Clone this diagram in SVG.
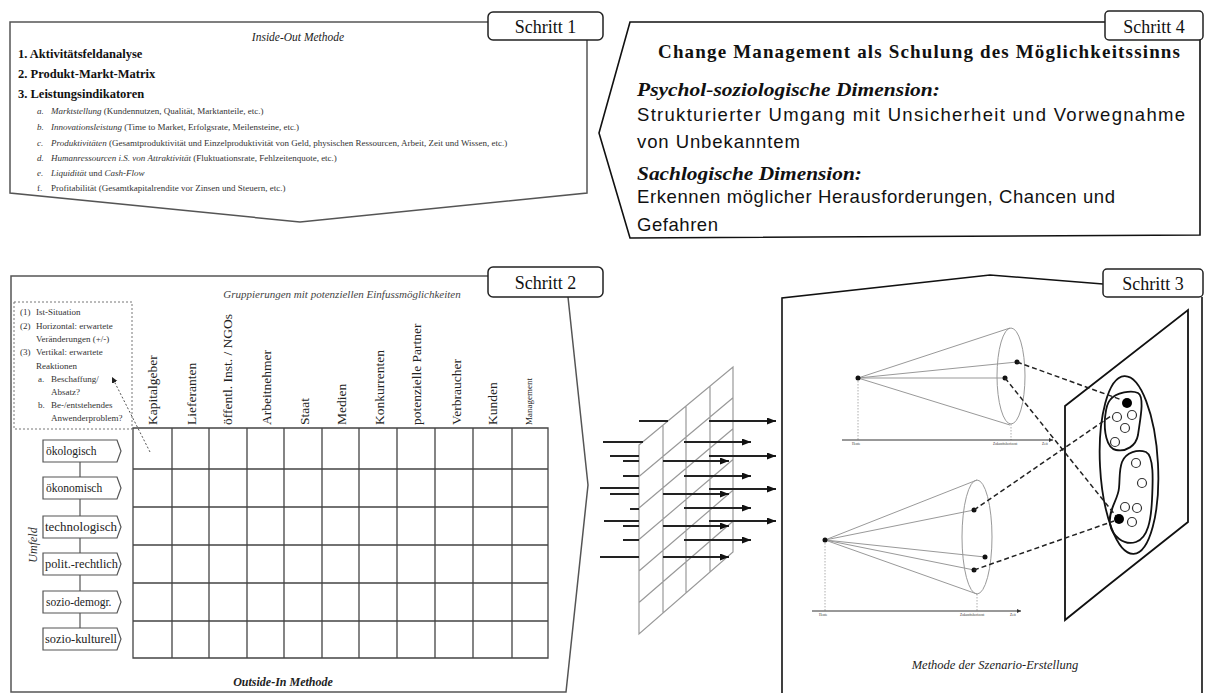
<svg xmlns="http://www.w3.org/2000/svg" width="1205" height="693" viewBox="0 0 1205 693">
  <defs>
    <marker id="arr" markerUnits="userSpaceOnUse" markerWidth="10" markerHeight="8" refX="9" refY="3.5" orient="auto">
      <path d="M0,0 L9,3.5 L0,7 Z" fill="#111"/>
    </marker>
    <marker id="arrSmall" markerUnits="userSpaceOnUse" markerWidth="8" markerHeight="8" refX="6" refY="3" orient="auto">
      <path d="M0,0 L6,3 L0,6 Z" fill="#222"/>
    </marker>
    <marker id="axisArr" markerUnits="userSpaceOnUse" markerWidth="6" markerHeight="6" refX="4" refY="2" orient="auto">
      <path d="M0,0 L4,2 L0,4 Z" fill="#333"/>
    </marker>
  </defs>
  <style>
    .frame { fill: none; stroke: #555; stroke-width: 1.5; }
    .frameDark { fill: none; stroke: #111; stroke-width: 1.6; }
    .tag { fill: #fff; stroke: #222; stroke-width: 1.5; }
    .tagText { font-family: "Liberation Serif", serif; font-size: 18px; fill: #111; text-anchor: middle; }
    .serif { font-family: "Liberation Serif", serif; }
    .sans { font-family: "Liberation Sans", sans-serif; }
    .head { font-family: "Liberation Serif", serif; font-size: 12.5px; font-weight: bold; fill: #111; }
    .item { font-family: "Liberation Serif", serif; font-size: 9px; fill: #333; }
    .it { font-style: italic; }
    .note { font-family: "Liberation Serif", serif; font-size: 9px; fill: #333; }
    .colHead { font-family: "Liberation Serif", serif; font-size: 13.5px; fill: #222; }
    .rowBox { fill: #fff; stroke: #555; stroke-width: 1.2; }
    .rowText { font-family: "Liberation Serif", serif; font-size: 11.5px; fill: #222; }
    .grid { fill: none; stroke: #444; stroke-width: 1.3; }
    .mesh { fill: none; stroke: #999; stroke-width: 1.2; }
    .ray { fill: none; stroke: #222; stroke-width: 2; }
    .cone { fill: none; stroke: #999; stroke-width: 1; }
    .dotline { fill: none; stroke: #999; stroke-width: 0.8; stroke-dasharray: 1.5,1.5; }
    .axis { fill: none; stroke: #333; stroke-width: 1; }
    .dash { fill: none; stroke: #222; stroke-width: 1.5; stroke-dasharray: 5,3; }
    .tiny { font-family: "Liberation Serif", serif; font-size: 3.5px; fill: #333; }
    .ring { fill: #fff; stroke: #333; stroke-width: 1.2; }
  </style>

  <!-- Schritt 1: Inside-Out Methode -->
  <g id="schritt1">
    <path class="frame" d="M488,22 H10 V193 L300,222 L587,193 V40"/>
    <rect class="tag" x="488" y="12" width="115" height="28" rx="5"/>
    <text class="tagText" x="545.5" y="33">Schritt 1</text>
    <text class="serif it" x="298" y="41" font-size="11.5" text-anchor="middle" fill="#222">Inside-Out Methode</text>
    <text class="head" x="18" y="58">1. Aktivitätsfeldanalyse</text>
    <text class="head" x="18" y="78">2. Produkt-Markt-Matrix</text>
    <text class="head" x="18" y="98">3. Leistungsindikatoren</text>
    <g class="item">
      <text x="37" y="114"><tspan class="it">a.</tspan><tspan x="51" class="it">Marktstellung</tspan> (Kundennutzen, Qualität, Marktanteile, etc.)</text>
      <text x="37" y="130"><tspan class="it">b.</tspan><tspan x="51" class="it">Innovationsleistung</tspan> (Time to Market, Erfolgsrate, Meilensteine, etc.)</text>
      <text x="37" y="146"><tspan class="it">c.</tspan><tspan x="51" class="it">Produktivitäten</tspan> (Gesamtproduktivität und Einzelproduktivität von Geld, physischen Ressourcen, Arbeit, Zeit und Wissen, etc.)</text>
      <text x="37" y="161"><tspan class="it">d.</tspan><tspan x="51" class="it">Humanressourcen i.S. von Attraktivität</tspan> (Fluktuationsrate, Fehlzeitenquote, etc.)</text>
      <text x="37" y="176"><tspan class="it">e.</tspan><tspan x="51" class="it">Liquidität</tspan> und <tspan class="it">Cash-Flow</tspan></text>
      <text x="37" y="191">f.<tspan x="51">Profitabilität (Gesamtkapitalrendite vor Zinsen und Steuern, etc.)</tspan></text>
    </g>
  </g>

  <!-- Schritt 4: Change Management -->
  <g id="schritt4">
    <path class="frameDark" d="M1105,22 H630 L599,133 L630,238 L1200,235 V40"/>
    <rect class="tag" x="1105" y="11" width="98" height="29" rx="4"/>
    <text class="tagText" x="1154" y="33">Schritt 4</text>
    <text class="serif" x="658" y="58" font-size="19" font-weight="bold" fill="#111" textLength="522" lengthAdjust="spacing">Change Management als Schulung des Möglichkeitssinns</text>
    <text class="serif" x="637" y="96" font-size="19" font-weight="bold" font-style="italic" fill="#111" textLength="303" lengthAdjust="spacingAndGlyphs">Psychol-soziologische Dimension:</text>
    <text class="sans" x="637" y="121" font-size="18.5" fill="#111" textLength="548" lengthAdjust="spacing">Strukturierter Umgang mit Unsicherheit und Vorwegnahme</text>
    <text class="sans" x="637" y="148" font-size="18.5" fill="#111" textLength="163" lengthAdjust="spacing">von Unbekanntem</text>
    <text class="serif" x="637" y="180" font-size="19" font-weight="bold" font-style="italic" fill="#111" textLength="225" lengthAdjust="spacingAndGlyphs">Sachlogische Dimension:</text>
    <text class="sans" x="637" y="203" font-size="18.5" fill="#111" textLength="478" lengthAdjust="spacing">Erkennen möglicher Herausforderungen, Chancen und</text>
    <text class="sans" x="637" y="231" font-size="18.5" fill="#111" textLength="81" lengthAdjust="spacing">Gefahren</text>
  </g>

  <!-- Schritt 2: Outside-In Methode -->
  <g id="schritt2">
    <path class="frame" d="M488,276 H11 V692 H566 L588,485 L568,297"/>
    <rect class="tag" x="488" y="267" width="115" height="30" rx="5"/>
    <text class="tagText" x="545.5" y="289">Schritt 2</text>

    <!-- legend box -->
    <rect x="14" y="302" width="118" height="127" fill="none" stroke="#777" stroke-width="1" stroke-dasharray="2,2"/>
    <g class="note">
      <text x="20" y="315">(1)<tspan x="36">Ist-Situation</tspan></text>
      <text x="20" y="329">(2)<tspan x="36">Horizontal: erwartete</tspan></text>
      <text x="36" y="342">Veränderungen (+/-)</text>
      <text x="20" y="355">(3)<tspan x="36">Vertikal: erwartete</tspan></text>
      <text x="36" y="369">Reaktionen</text>
      <text x="38" y="382">a.<tspan x="51">Beschaffung/</tspan></text>
      <text x="51" y="395">Absatz?</text>
      <text x="38" y="408">b.<tspan x="51">Be-/entstehendes</tspan></text>
      <text x="51" y="421">Anwenderproblem?</text>
    </g>

    <text class="serif it" x="342" y="298" font-size="11" text-anchor="middle" fill="#444">Gruppierungen mit potenziellen Einfussmöglichkeiten</text>

    <!-- column headings -->
    <g class="colHead">
      <text transform="translate(157,425) rotate(-90)">Kapitalgeber</text>
      <text transform="translate(196,425) rotate(-90)">Lieferanten</text>
      <text transform="translate(232,425) rotate(-90)">öffentl. Inst. / NGOs</text>
      <text transform="translate(271,425) rotate(-90)">Arbeitnehmer</text>
      <text transform="translate(309,425) rotate(-90)">Staat</text>
      <text transform="translate(346,425) rotate(-90)">Medien</text>
      <text transform="translate(384,425) rotate(-90)">Konkurrenten</text>
      <text transform="translate(421,425) rotate(-90)">potenzielle Partner</text>
      <text transform="translate(461,425) rotate(-90)">Verbraucher</text>
      <text transform="translate(497,425) rotate(-90)">Kunden</text>
      <text transform="translate(532,425) rotate(-90)" font-size="9">Management</text>
    </g>

    <!-- matrix -->
    <path class="grid" d="M133,428 H548 V658 H133 Z
      M172,428 V658 M209,428 V658 M247,428 V658 M284,428 V658 M322,428 V658
      M359,428 V658 M397,428 V658 M435,428 V658 M473,428 V658 M512,428 V658
      M133,469 H548 M133,507 H548 M133,545 H548 M133,583 H548 M133,621 H548"/>

    <!-- environment rows -->
    <line x1="80" y1="462" x2="80" y2="628" stroke="#555" stroke-width="1.2"/>
    <g id="row-oekologisch" transform="translate(0,451)">
      <path class="rowBox" d="M43,-11 H117 L121,0 L117,11 H43 Z"/>
      <text class="rowText" x="46" y="4">ökologisch</text>
    </g>
    <g id="row-oekonomisch" transform="translate(0,488)">
      <path class="rowBox" d="M43,-11 H117 L121,0 L117,11 H43 Z"/>
      <text class="rowText" x="46" y="4">ökonomisch</text>
    </g>
    <g id="row-technologisch" transform="translate(0,527)">
      <path class="rowBox" d="M43,-11 H117 L121,0 L117,11 H43 Z"/>
      <text class="rowText" x="45" y="4" textLength="72" lengthAdjust="spacingAndGlyphs">technologisch</text>
    </g>
    <g id="row-politisch" transform="translate(0,564)">
      <path class="rowBox" d="M43,-11 H117 L121,0 L117,11 H43 Z"/>
      <text class="rowText" x="45" y="4" textLength="73" lengthAdjust="spacingAndGlyphs">polit.-rechtlich</text>
    </g>
    <g id="row-soziodemogr" transform="translate(0,602)">
      <path class="rowBox" d="M43,-11 H117 L121,0 L117,11 H43 Z"/>
      <text class="rowText" x="46" y="4">sozio-demogr.</text>
    </g>
    <g id="row-soziokulturell" transform="translate(0,639)">
      <path class="rowBox" d="M43,-11 H117 L121,0 L117,11 H43 Z"/>
      <text class="rowText" x="45" y="4" textLength="72" lengthAdjust="spacingAndGlyphs">sozio-kulturell</text>
    </g>
    <text class="serif it" transform="translate(37,545) rotate(-90)" font-size="12" text-anchor="middle" fill="#333">Umfeld</text>

    <text class="serif" x="283" y="686" font-size="12" font-weight="bold" font-style="italic" text-anchor="middle" fill="#222">Outside-In Methode</text>
  </g>

  <!-- filter mesh between the matrix and the scenario frame -->
  <g id="mesh">
    <path class="mesh" d="M639,445 L733,367 V552 L639,634 Z
      M663,425 V613 M686,406 V593 M710,386 V572
      M639,476.5 L733,397.8 M639,508 L733,428.7 M639,539.5 L733,459.5
      M639,571 L733,490.3 M639,602.5 L733,521.2"/>
  </g>

  <!-- Schritt 3: Szenario-Erstellung -->
  <g id="schritt3">
    <path class="frameDark" d="M1103,284 L990,275 L782,298 V693 M1202,297 V693" stroke-width="2"/>
    <rect class="tag" x="1103" y="269" width="100" height="28" rx="4"/>
    <text class="tagText" x="1153" y="290">Schritt 3</text>

    <!-- upper cone -->
    <g id="cone-upper">
      <ellipse class="cone" cx="1011" cy="376" rx="14" ry="48"/>
      <path class="cone" d="M858,378 L1010,328 M858,378 L1010,425 M858,378 L1017,362 M858,378 L1005,378"/>
      <path class="dotline" d="M858,378 V440 M1011,424 V440"/>
      <line class="axis" x1="842" y1="440" x2="1053" y2="440" marker-end="url(#axisArr)"/>
      <circle cx="858" cy="378" r="2.5" fill="#111"/>
      <circle cx="1017" cy="362" r="2.5" fill="#111"/>
      <circle cx="1005" cy="378" r="2.5" fill="#111"/>
      <text class="tiny" x="852" y="445">Heute</text>
      <text class="tiny" x="993" y="445">Zukunftshorizont</text>
      <text class="tiny" x="1042" y="445">Zeit</text>
    </g>

    <!-- lower cone -->
    <g id="cone-lower">
      <ellipse class="cone" cx="977" cy="537" rx="15" ry="57"/>
      <path class="cone" d="M825,540 L977,480 M825,540 L977,594 M825,540 L974,510 M825,540 L985,557 M825,540 L974,570"/>
      <path class="dotline" d="M825,540 V611 M977,594 V611"/>
      <line class="axis" x1="812" y1="611" x2="1021" y2="611" marker-end="url(#axisArr)"/>
      <circle cx="825" cy="540" r="2.5" fill="#111"/>
      <circle cx="974" cy="510" r="2.5" fill="#111"/>
      <circle cx="985" cy="557" r="2.5" fill="#111"/>
      <circle cx="974" cy="570" r="2.5" fill="#111"/>
      <text class="tiny" x="819" y="616">Heute</text>
      <text class="tiny" x="960" y="616">Zukunftshorizont</text>
      <text class="tiny" x="1010" y="616">Zeit</text>
    </g>

    <!-- projection plane with scenario clusters -->
    <g id="plane">
      <path d="M1065,406 L1188,310 V522 L1106,587 L1065,620 Z" fill="none" stroke="#111" stroke-width="1.8"/>
      <ellipse cx="1129" cy="465" rx="29" ry="89" transform="rotate(-3 1129 465)" fill="none" stroke="#111" stroke-width="1.8"/>
      <path d="M1110,400 C1116,392 1132,390 1138,393 C1145,397 1140,420 1138,435 C1136,446 1126,452 1116,450 C1106,448 1104,430 1105,418 C1106,410 1106,405 1110,400 Z" fill="none" stroke="#111" stroke-width="1.8"/>
      <path d="M1122,462 C1126,452 1138,449 1146,452 C1154,456 1153,480 1152,500 C1151,520 1148,538 1136,542 C1124,546 1112,536 1110,524 C1108,510 1118,500 1119,488 C1120,478 1119,470 1122,462 Z" fill="none" stroke="#111" stroke-width="1.8"/>
      <circle cx="1127" cy="403" r="5" fill="#000"/>
      <circle class="ring" cx="1117" cy="417" r="4.5"/>
      <circle class="ring" cx="1132" cy="415" r="4.5"/>
      <circle class="ring" cx="1125" cy="428" r="4.5"/>
      <circle class="ring" cx="1115" cy="442" r="4.5"/>
      <circle class="ring" cx="1136" cy="463" r="4.5"/>
      <circle class="ring" cx="1142" cy="483" r="4.5"/>
      <circle class="ring" cx="1125" cy="507" r="4.5"/>
      <circle class="ring" cx="1137" cy="508" r="4.5"/>
      <circle class="ring" cx="1132" cy="522" r="4.5"/>
      <circle cx="1119" cy="519" r="5" fill="#000"/>
    </g>

    <text class="serif it" x="995" y="669" font-size="12.5" text-anchor="middle" fill="#222">Methode der Szenario-Erstellung</text>
  </g>

  <!-- connectors: hint arrow, rays through the mesh, projection lines -->
  <g id="connectors">
    <line x1="150" y1="452" x2="112" y2="377" stroke="#555" stroke-width="1" stroke-dasharray="2,2" marker-end="url(#arrSmall)"/>

    <!-- incoming ray stubs -->
    <path class="ray" d="M639,421 H668 M603,442 H643 M610,456 H639 M623,461 H639 M623,476 H639
      M600,488 H639 M610,494 H639 M630,509 H639 M604,521 H639 M623,526 H639 M623,540 H639 M600,557 H639"/>
    <!-- outgoing rays -->
    <line class="ray" x1="709" y1="421" x2="776" y2="421" marker-end="url(#arr)"/>
    <line class="ray" x1="684" y1="442" x2="751" y2="442" marker-end="url(#arr)"/>
    <line class="ray" x1="709" y1="456" x2="776" y2="456" marker-end="url(#arr)"/>
    <line class="ray" x1="663" y1="461" x2="729" y2="461" marker-end="url(#arr)"/>
    <line class="ray" x1="684" y1="476" x2="751" y2="476" marker-end="url(#arr)"/>
    <line class="ray" x1="709" y1="489" x2="776" y2="489" marker-end="url(#arr)"/>
    <line class="ray" x1="663" y1="494" x2="729" y2="494" marker-end="url(#arr)"/>
    <line class="ray" x1="684" y1="508" x2="751" y2="508" marker-end="url(#arr)"/>
    <line class="ray" x1="709" y1="521" x2="776" y2="521" marker-end="url(#arr)"/>
    <line class="ray" x1="663" y1="526" x2="729" y2="526" marker-end="url(#arr)"/>
    <line class="ray" x1="684" y1="540" x2="751" y2="540" marker-end="url(#arr)"/>
    <line class="ray" x1="663" y1="557" x2="729" y2="557" marker-end="url(#arr)"/>

    <!-- projections from cones onto the plane -->
    <line class="dash" x1="1017" y1="362" x2="1122" y2="400"/>
    <line class="dash" x1="1005" y1="378" x2="1116" y2="516"/>
    <line class="dash" x1="974" y1="510" x2="1111" y2="416"/>
    <line class="dash" x1="974" y1="570" x2="1114" y2="521"/>
  </g>
</svg>
